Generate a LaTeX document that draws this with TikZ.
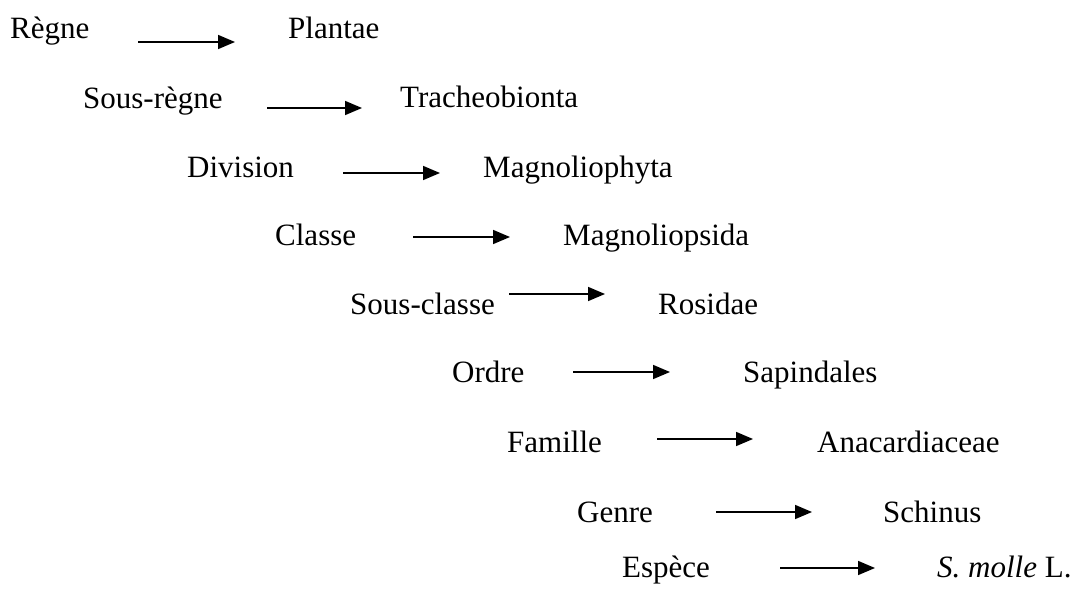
\documentclass[tikz,border=0pt]{standalone}
\usepackage{fontspec}
\setmainfont{Liberation Serif}
\usetikzlibrary{arrows.meta}
\begin{document}
\begin{tikzpicture}
  [x=1pt,y=-1pt,every node/.style={anchor=base west,inner sep=0pt,font=\fontsize{31}{37}\selectfont},
   fleche/.style={line width=1.6pt,-{Triangle[length=17pt,width=14pt]}}]
\useasboundingbox (0,0) rectangle (1075,594);

\node (regne) at (10,39) {Règne};
  \node (plantae) at (288,39) {Plantae};
  \coordinate (d1) at (138,42);
  \coordinate (f1) at (235,42);

\node (sregne) at (83,108) {Sous-règne};
  \node (trach) at (400,107) {Tracheobionta};
  \coordinate (d2) at (267,108);
  \coordinate (f2) at (362,108);

\node (division) at (187,177) {Division};
  \node (magphyta) at (483,177) {Magnoliophyta};
  \coordinate (d3) at (343,173);
  \coordinate (f3) at (440,173);

\node (classe) at (275,245) {Classe};
  \node (magpsida) at (563,245) {Magnoliopsida};
  \coordinate (d4) at (413,237);
  \coordinate (f4) at (510,237);

\node (sclasse) at (350,314) {Sous-classe};
  \node (rosidae) at (658,314) {Rosidae};
  \coordinate (d5) at (509,294);
  \coordinate (f5) at (605,294);

\node (ordre) at (452,382) {Ordre};
  \node (sapind) at (743,382) {Sapindales};
  \coordinate (d6) at (573,372);
  \coordinate (f6) at (670,372);

\node (famille) at (507,452) {Famille};
  \node (anacard) at (817,452) {Anacardiaceae};
  \coordinate (d7) at (657,439);
  \coordinate (f7) at (753,439);

\node (genre) at (577,522) {Genre};
  \node (schinus) at (883,522) {Schinus};
  \coordinate (d8) at (716,512);
  \coordinate (f8) at (812,512);

\node (espece) at (622,577) {Espèce};
  \node (smolle) at (937,577) {\textit{S. molle} L.};
  \coordinate (d9) at (780,568);
  \coordinate (f9) at (875,568);

 % fleches
 \draw[fleche] (d1) -- (f1);
 \draw[fleche] (d2) -- (f2);
 \draw[fleche] (d3) -- (f3);
 \draw[fleche] (d4) -- (f4);
 \draw[fleche] (d5) -- (f5);
 \draw[fleche] (d6) -- (f6);
 \draw[fleche] (d7) -- (f7);
 \draw[fleche] (d8) -- (f8);
 \draw[fleche] (d9) -- (f9);

\end{tikzpicture}
\end{document}
